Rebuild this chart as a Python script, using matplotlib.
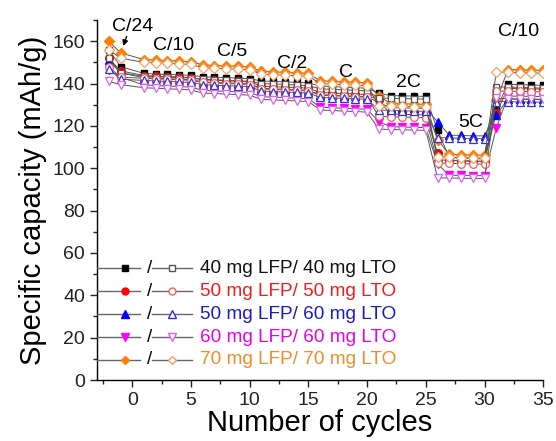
#!/usr/bin/env python3
"""Rate capability of LFP/LTO full cells with different electrode loadings."""

import matplotlib.pyplot as plt
from matplotlib.lines import Line2D

CYCLES = [-2, -1] + list(range(1, 36))

LABELS = [
    "40 mg LFP/ 40 mg LTO",
    "50 mg LFP/ 50 mg LTO",
    "50 mg LFP/ 60 mg LTO",
    "60 mg LFP/ 60 mg LTO",
    "70 mg LFP/ 70 mg LTO",
]

# charge (filled) and discharge (open) capacities, mAh/g
BLACK_CHG = [156.0, 148.0,
             144.8, 144.5, 144.3, 144.1, 143.9,
             143.2, 143.0, 142.8, 142.6, 142.3,
             141.2, 141.0, 140.8, 140.6, 140.3,
             138.8, 138.6, 138.3, 138.1, 137.8,
             135.5, 134.3, 134.2, 134.1, 133.9,
             118.0, 105.0, 104.8, 104.6, 104.4,
             128.0, 139.6, 139.5, 139.3, 139.1]
BLACK_DIS = [152.0, 145.0,
             143.5, 143.2, 143.0, 142.8, 142.6,
             142.0, 141.8, 141.5, 141.3, 141.0,
             140.0, 139.8, 139.6, 139.3, 139.0,
             137.5, 137.3, 137.0, 136.8, 136.5,
             133.2, 133.0, 132.9, 132.8, 132.6,
             104.0, 103.8, 103.6, 103.4, 103.2,
             138.5, 138.3, 138.2, 138.0, 137.8]

RED_CHG = [152.0, 146.0,
           143.8, 143.5, 143.3, 143.1, 142.8,
           141.8, 141.5, 141.3, 141.1, 140.8,
           138.8, 138.5, 138.3, 138.1, 137.8,
           135.8, 135.5, 135.3, 135.1, 134.8,
           132.0, 125.6, 125.5, 125.3, 125.2,
           107.0, 103.6, 103.5, 103.3, 103.3,
           126.0, 137.7, 137.6, 137.5, 137.3]
RED_DIS = [148.0, 143.0,
           142.5, 142.2, 142.0, 141.8, 141.5,
           140.5, 140.2, 140.0, 139.8, 139.5,
           137.5, 137.2, 137.0, 136.8, 136.5,
           134.5, 134.2, 134.0, 133.8, 133.5,
           124.5, 124.3, 124.2, 124.0, 123.9,
           102.5, 102.3, 102.2, 102.0, 102.0,
           136.5, 136.4, 136.3, 136.2, 136.0]

BLUE_CHG = [151.0, 145.0,
            142.8, 142.5, 142.3, 142.1, 141.8,
            140.8, 140.5, 140.3, 140.1, 139.8,
            137.8, 137.5, 137.3, 137.1, 136.8,
            134.8, 134.5, 134.3, 134.1, 133.8,
            131.0, 128.6, 128.5, 128.3, 128.2,
            122.0, 115.6, 115.5, 115.3, 115.3,
            125.0, 132.8, 132.6, 132.6, 132.5]
BLUE_DIS = [147.0, 142.0,
            141.5, 141.2, 141.0, 140.8, 140.5,
            139.5, 139.2, 139.0, 138.8, 138.5,
            136.5, 136.2, 136.0, 135.8, 135.5,
            133.5, 133.2, 133.0, 132.8, 132.5,
            127.5, 127.3, 127.2, 127.0, 126.9,
            114.5, 114.3, 114.2, 114.0, 114.0,
            131.5, 131.5, 131.3, 131.3, 131.2]

PINK_CHG = [146.5, 143.0,
            139.3, 139.1, 138.8, 138.6, 138.3,
            136.8, 136.6, 136.3, 136.1, 135.8,
            133.8, 133.6, 133.3, 133.1, 132.8,
            128.8, 128.6, 128.3, 128.1, 127.8,
            122.0, 119.6, 119.5, 119.3, 119.2,
            102.0, 96.7, 96.6, 96.5, 96.5,
            119.0, 134.1, 134.0, 133.9, 133.8]
PINK_DIS = [141.0, 139.5,
            138.0, 137.8, 137.5, 137.3, 137.0,
            135.5, 135.3, 135.0, 134.8, 134.5,
            132.5, 132.3, 132.0, 131.8, 131.5,
            127.5, 127.3, 127.0, 126.8, 126.5,
            118.5, 118.3, 118.2, 118.0, 117.9,
            95.5, 95.4, 95.3, 95.2, 95.2,
            133.0, 132.8, 132.7, 132.6, 132.5]

ORANGE_CHG = [160.0, 154.5,
              151.3, 151.1, 150.8, 150.6, 150.3,
              148.8, 148.5, 148.3, 148.1, 147.8,
              145.8, 145.5, 145.3, 145.0, 144.8,
              141.3, 141.0, 140.8, 140.5, 140.3,
              134.0, 130.6, 130.5, 130.3, 130.2,
              113.5, 106.5, 106.3, 106.2, 106.1,
              132.0, 146.6, 146.5, 146.3, 146.2]
ORANGE_DIS = [156.0, 152.0,
              150.0, 149.8, 149.5, 149.3, 149.0,
              147.5, 147.2, 147.0, 146.8, 146.5,
              144.5, 144.2, 144.0, 143.7, 143.5,
              140.0, 139.7, 139.5, 139.2, 139.0,
              129.5, 129.3, 129.2, 129.0, 128.9,
              105.5, 105.2, 105.0, 104.9, 104.8,
              145.5, 145.3, 145.2, 145.0, 144.9]

CHARGE = [BLACK_CHG, RED_CHG, BLUE_CHG, PINK_CHG, ORANGE_CHG]
DISCHARGE = [BLACK_DIS, RED_DIS, BLUE_DIS, PINK_DIS, ORANGE_DIS]

# rate labels: text, x, y
RATES = ["C/24", "C/10", "C/5", "C/2", "C", "2C", "5C", "C/10"]
RATE_X = [0.0, 3.5, 8.5, 13.6, 18.2, 23.5, 28.8, 32.9]
RATE_Y = [167.0, 158.0, 155.0, 149.5, 145.0, 140.5, 121.5, 164.5]

MARKERS = ["s", "o", "^", "v", "D"]
SIZES = [5.0, 5.5, 6.0, 6.0, 4.8]
FACE = ["#000000", "#ff0000", "#0000ff", "#ff00ff", "#ff8000"]
EDGE_OPEN = ["#555555", "#f06060", "#3030e0", "#e060f0", "#f0a060"]
TEXT_COL = ["#111111", "#ee1c1c", "#1a1acc", "#e600e6", "#f08c28"]
LINE_COL = "#555555"


def main() -> None:
    plt.rcParams.update({"font.family": "Liberation Sans"})
    fig = plt.figure(figsize=(5.56, 4.41), dpi=100)
    ax = fig.add_axes([0.1745, 0.1383, 0.8025, 0.8163])

    # filled (charge) series sit under the open (discharge) ones
    for i in range(len(LABELS)):
        ax.plot(CYCLES, CHARGE[i], color=LINE_COL, lw=0.7,
                marker=MARKERS[i], ms=SIZES[i], mfc=FACE[i], mec=FACE[i],
                zorder=3)
    for i in range(len(LABELS)):
        ax.plot(CYCLES, DISCHARGE[i], color=LINE_COL, lw=0.7,
                marker=MARKERS[i], ms=SIZES[i], mfc="white",
                mec=EDGE_OPEN[i], mew=0.9, zorder=4)

    for text, x, y in zip(RATES, RATE_X, RATE_Y):
        ax.text(x, y, text, ha="center", va="center", fontsize=14)
    ax.annotate("", xy=(-0.85, 156.5), xytext=(-0.4, 163.5),
                arrowprops=dict(arrowstyle="-|>", color="black", lw=1.0,
                                mutation_scale=8))

    # legend drawn by hand: filled / open marker pairs
    rows_y = [0.311, 0.247, 0.183, 0.119, 0.056]
    tr = ax.transAxes
    for i, yy in enumerate(rows_y):
        ax.add_line(Line2D([0.0, 0.096], [yy, yy], transform=tr,
                           color="#666666", lw=1.0, zorder=10))
        ax.add_line(Line2D([0.063], [yy], transform=tr, marker=MARKERS[i],
                           ms=SIZES[i] - 0.5, mfc=FACE[i], mec=FACE[i],
                           zorder=11))
        ax.text(0.117, yy, "/", transform=tr, ha="center", va="center",
                fontsize=13.5)
        ax.add_line(Line2D([0.123, 0.213], [yy, yy], transform=tr,
                           color="#666666", lw=1.0, zorder=10))
        ax.add_line(Line2D([0.168], [yy], transform=tr, marker=MARKERS[i],
                           ms=SIZES[i] - 0.5, mfc="white", mec=EDGE_OPEN[i],
                           zorder=11))
        ax.text(0.231, yy, LABELS[i], transform=tr, ha="left", va="center",
                fontsize=13.7, color=TEXT_COL[i])

    ax.set_xlim(-3, 35)
    ax.set_ylim(0, 170)
    ax.set_xticks(range(0, 36, 5))
    ax.set_xticks([x + 2.5 for x in range(-5, 35, 5)], minor=True)
    ax.set_yticks(range(0, 161, 20))
    ax.set_yticks(range(10, 171, 20), minor=True)
    ax.tick_params(axis="both", which="major", labelsize=14, length=5,
                   width=1.0, direction="out", colors="#222222")
    ax.tick_params(axis="both", which="minor", length=3, width=1.0,
                   direction="out", colors="#222222")
    for side in ("top", "right"):
        ax.spines[side].set_visible(False)
    for side in ("left", "bottom"):
        ax.spines[side].set_linewidth(1.0)
    ax.set_xlabel("Number of cycles", fontsize=21, labelpad=0)
    ax.set_ylabel("Specific capacity (mAh/g)", fontsize=21, labelpad=4)

    fig.savefig("out.png", dpi=100)


if __name__ == "__main__":
    main()
